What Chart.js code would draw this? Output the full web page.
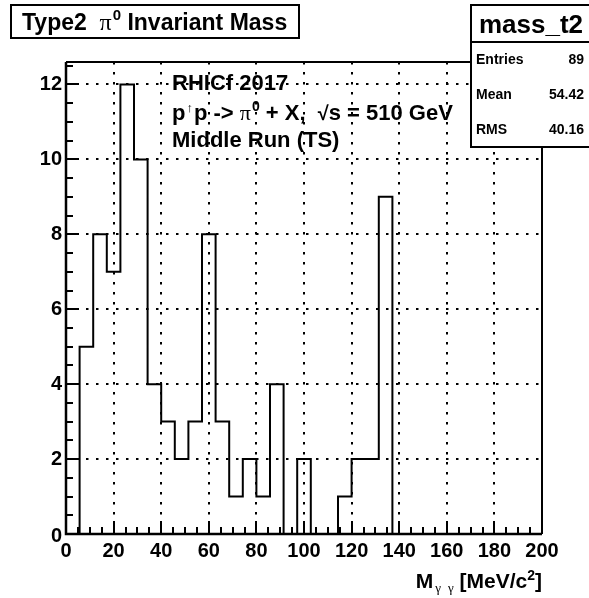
<!DOCTYPE html>
<html>
<head>
<meta charset="utf-8">
<title>mass_t2</title>
<script src="https://cdn.jsdelivr.net/npm/chart.js@4.4.1/dist/chart.umd.min.js"></script>
<style>
  html, body { margin: 0; padding: 0; background: #fff; }
  canvas { display: block; }
</style>
</head>
<body>
<canvas id="massChart" width="589" height="598"></canvas>
<script>
// histogram mass_t2, 35 bins from 0 to 200 MeV/c2
const xMin = 0;
const xMax = 200;
const binCounts = [0, 5, 8, 7, 12, 10, 4, 3, 2, 3, 8, 3, 1, 2, 1, 4, 0, 2, 0, 0, 1, 2, 2, 9,
  0, 0, 0, 0, 0, 0, 0, 0, 0, 0, 0];
const yMax = 12.6;
const xMajorTicks = [0, 20, 40, 60, 80, 100, 120, 140, 160, 180, 200];
const yMajorTicks = [0, 2, 4, 6, 8, 10, 12];
const xMinorStep = 5;
const yMinorStep = 0.5;
const statLabels = ["Entries", "Mean", "RMS"];
const statValues = ["89", "54.42", "40.16"];

const SANS = '"Liberation Sans", Arial, Helvetica, sans-serif';
const SERIF = '"Liberation Serif", "Times New Roman", serif';

const binWidth = (xMax - xMin) / binCounts.length;
const histPoints = binCounts.map((c, i) => ({ x: xMin + i * binWidth, y: c }));
histPoints.push({ x: xMax, y: binCounts[binCounts.length - 1] });

// text made of several pieces (sub/superscripts, greek letters)
function runsWidth(ctx, runs) {
  let w = 0;
  for (const r of runs) {
    ctx.font = r.font;
    w += ctx.measureText(r.text).width + (r.gap || 0);
  }
  return w;
}

function drawRuns(ctx, runs, x, y) {
  ctx.textAlign = "left";
  ctx.textBaseline = "alphabetic";
  for (const r of runs) {
    ctx.font = r.font;
    ctx.fillText(r.text, x, y + (r.dy || 0));
    x += ctx.measureText(r.text).width + (r.gap || 0);
  }
  return x;
}

const rootPad = {
  id: "rootPad",
  beforeDraw(chart) {
    const ctx = chart.ctx;
    ctx.save();
    ctx.fillStyle = "#fff";
    ctx.fillRect(0, 0, chart.width, chart.height);
    ctx.restore();
  },
  beforeDatasetsDraw(chart) {
    const { ctx, chartArea: a, scales: { x, y } } = chart;
    ctx.save();
    ctx.strokeStyle = "#000";
    ctx.lineWidth = 2;
    ctx.setLineDash([2.5, 7.5]);
    for (const v of xMajorTicks) {
      if (v === xMin || v === xMax) continue;
      const px = Math.round(x.getPixelForValue(v));
      ctx.beginPath();
      ctx.moveTo(px, a.top);
      ctx.lineTo(px, a.bottom);
      ctx.stroke();
    }
    for (const v of yMajorTicks) {
      if (v === 0) continue;
      const py = Math.round(y.getPixelForValue(v));
      ctx.beginPath();
      ctx.moveTo(a.left, py);
      ctx.lineTo(a.right, py);
      ctx.stroke();
    }
    ctx.restore();
  },
  afterDatasetsDraw(chart) {
    const { ctx, chartArea: a, scales: { x, y } } = chart;
    ctx.save();
    ctx.strokeStyle = "#000";
    ctx.fillStyle = "#000";

    // frame
    ctx.lineWidth = 2;
    ctx.beginPath();
    ctx.moveTo(a.left, a.top);
    ctx.lineTo(a.right, a.top);
    ctx.lineTo(a.right, a.bottom);
    ctx.stroke();
    ctx.lineWidth = 2.5;
    ctx.beginPath();
    ctx.moveTo(a.left, a.top);
    ctx.lineTo(a.left, a.bottom);
    ctx.lineTo(a.right, a.bottom);
    ctx.stroke();

    // ticks, pointing into the pad
    ctx.lineWidth = 2;
    ctx.beginPath();
    for (let v = xMin; v <= xMax + 1e-9; v += xMinorStep) {
      const px = Math.round(x.getPixelForValue(v));
      const len = xMajorTicks.includes(v) ? 13 : 7;
      ctx.moveTo(px, a.bottom);
      ctx.lineTo(px, a.bottom - len);
    }
    for (let v = 0; v <= yMax + 1e-9; v += yMinorStep) {
      const py = Math.round(y.getPixelForValue(v));
      const len = yMajorTicks.includes(v) ? 13 : 7;
      ctx.moveTo(a.left, py);
      ctx.lineTo(a.left + len, py);
    }
    ctx.stroke();

    // tick labels
    ctx.font = "bold 20px " + SANS;
    ctx.textAlign = "center";
    ctx.textBaseline = "middle";
    for (const v of xMajorTicks) {
      ctx.fillText(String(v), x.getPixelForValue(v), a.bottom + 17);
    }
    ctx.textAlign = "right";
    for (const v of yMajorTicks) {
      ctx.fillText(String(v), a.left - 4, y.getPixelForValue(v) + (v === 0 ? 2 : 0));
    }

    // x axis title
    const xTitle = [
      { text: "M", font: "bold 21px " + SANS, gap: 2 },
      { text: "\u03b3", font: "13px " + SERIF, dy: 4, gap: 7 },
      { text: "\u03b3", font: "13px " + SERIF, dy: 4 },
      { text: " [MeV/c", font: "bold 21px " + SANS },
      { text: "2", font: "bold 14px " + SANS, dy: -8 },
      { text: "]", font: "bold 21px " + SANS }
    ];
    drawRuns(ctx, xTitle, a.right - runsWidth(ctx, xTitle), 588);

    // labels inside the pad
    ctx.font = "bold 22px " + SANS;
    ctx.fillText("RHICf 2017", 172, 90);
    const line2 = [
      { text: "p", font: "bold 22px " + SANS, gap: 1 },
      { text: "\u2191", font: "bold 13px " + SANS, dy: -8, gap: 1 },
      { text: "p -> ", font: "bold 22px " + SANS },
      { text: "\u03c0", font: "22px " + SERIF, gap: 1 },
      { text: "0", font: "bold 14px " + SANS, dy: -9 },
      { text: " + X,  ", font: "bold 22px " + SANS },
      { text: "\u221a", font: "bold 20px " + SANS },
      { text: "s = 510 GeV", font: "bold 22px " + SANS }
    ];
    drawRuns(ctx, line2, 172, 120);
    ctx.textAlign = "left";
    ctx.font = "bold 22px " + SANS;
    ctx.fillText("Middle Run (TS)", 172, 147);

    // title box
    ctx.lineWidth = 2;
    ctx.fillStyle = "#fff";
    ctx.fillRect(11, 5, 288, 33);
    ctx.strokeRect(11, 5, 288, 33);
    ctx.fillStyle = "#000";
    const title = [
      { text: "Type2  ", font: "bold 23px " + SANS },
      { text: "\u03c0", font: "24px " + SERIF, gap: 1 },
      { text: "0", font: "bold 15px " + SANS, dy: -10 },
      { text: " Invariant Mass", font: "bold 23px " + SANS }
    ];
    drawRuns(ctx, title, 22, 30);

    // stats box
    const bx = 471, by = 5, bw = 130, bh = 142;
    ctx.fillStyle = "#fff";
    ctx.fillRect(bx, by, bw, bh);
    ctx.strokeRect(bx, by, bw, bh);
    ctx.beginPath();
    ctx.moveTo(bx, 42);
    ctx.lineTo(bx + bw, 42);
    ctx.stroke();
    ctx.fillStyle = "#000";
    ctx.font = "bold 26px " + SANS;
    ctx.textAlign = "center";
    ctx.textBaseline = "alphabetic";
    ctx.fillText("mass_t2", 531, 33);
    ctx.font = "bold 14px " + SANS;
    ctx.textBaseline = "middle";
    const rowY = [60, 95, 130];
    statLabels.forEach((lab, i) => {
      ctx.textAlign = "left";
      ctx.fillText(lab, 476, rowY[i]);
      ctx.textAlign = "right";
      ctx.fillText(statValues[i], 584, rowY[i]);
    });
    ctx.restore();
  }
};

new Chart(document.getElementById("massChart"), {
  type: "line",
  data: {
    datasets: [{
      label: "mass_t2",
      data: histPoints,
      borderColor: "#000",
      borderWidth: 2,
      pointRadius: 0,
      stepped: "before",
      fill: false
    }]
  },
  options: {
    responsive: false,
    animation: false,
    devicePixelRatio: 1,
    layout: { padding: { left: 66, right: 47, top: 62, bottom: 64 } },
    plugins: { legend: { display: false }, tooltip: { enabled: false } },
    scales: {
      x: { type: "linear", min: xMin, max: xMax, display: false },
      y: { type: "linear", min: 0, max: yMax, display: false }
    }
  },
  plugins: [rootPad]
});
</script>
</body>
</html>
